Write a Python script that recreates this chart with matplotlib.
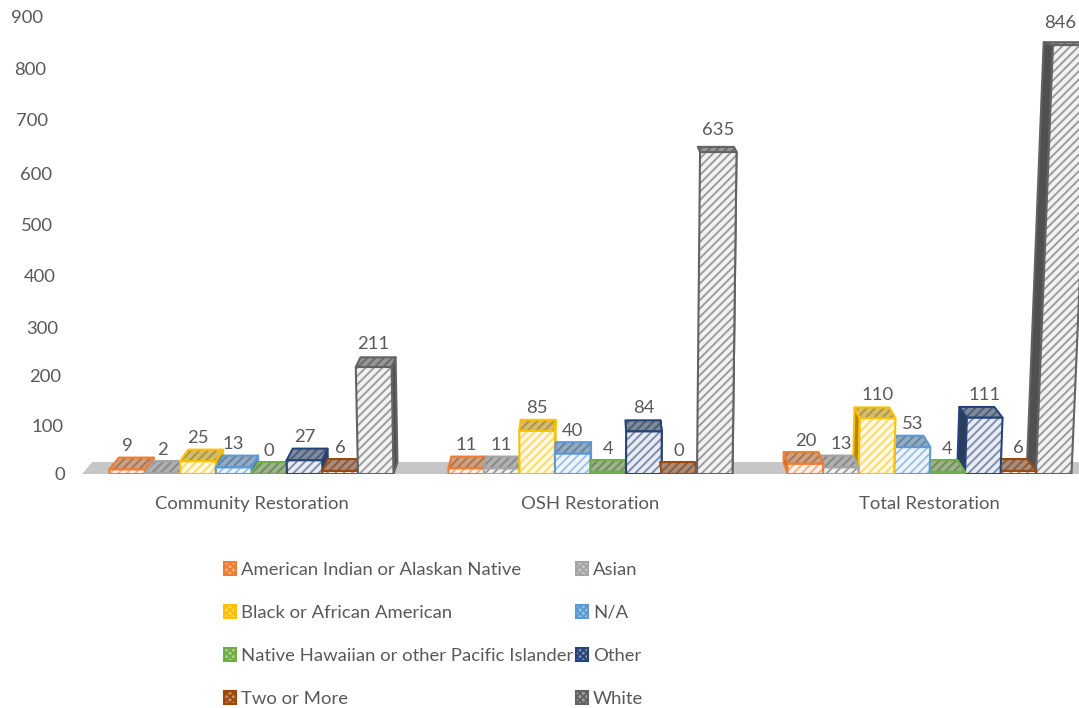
import matplotlib
matplotlib.use("Agg")
import matplotlib.pyplot as plt
import numpy as np
from matplotlib.patches import Polygon, Patch
from matplotlib.colors import to_rgb
from matplotlib.transforms import ScaledTranslation

categories = ["Community Restoration", "OSH Restoration", "Total Restoration"]
series_names = ["American Indian or Alaskan Native", "Asian", "Black or African American", "N/A",
                "Native Hawaiian or other Pacific Islander", "Other", "Two or More", "White"]
american_indian = [9, 11, 20]
asian = [2, 11, 13]
black = [25, 85, 110]
na = [13, 40, 53]
hawaiian = [0, 4, 4]
other = [27, 84, 111]
two_more = [6, 0, 6]
white = [211, 635, 846]
all_series = [american_indian, asian, black, na, hawaiian, other, two_more, white]
colors = ["#ED7D31", "#A5A5A5", "#FFC000", "#5B9BD5", "#70AD47", "#264478", "#9E480E", "#636363"]
yticks = list(range(0, 1000, 100))

W, H = 1079, 708
FONT = "Lato"
TXT = "#595959"
FS = 13.3
plt.rcParams["font.family"] = [FONT, "DejaVu Sans"]
plt.rcParams["hatch.linewidth"] = 1.4

fig = plt.figure(figsize=(W / 100, H / 100), dpi=100)
SLOPE = 0.507
ax_l, ax_r, ax_b = 68, 1079, 474
ax_t = ax_b - SLOPE * 900
ax = fig.add_axes([ax_l / W, 1 - ax_b / H, (ax_r - ax_l) / W, (ax_b - ax_t) / H])
PX = 339.0
XC = 1.0
CX = 590.5
ax.set_xlim((ax_l - CX) / PX + XC, (ax_r - CX) / PX + XC)
ax.set_ylim(0, 900)
for s in ax.spines.values():
    s.set_visible(False)
ax.patch.set_alpha(0)

LEAN = 4.5e-5
DX = 0.02
D0, D1 = 23.6, 0.0212
BW = 35.5 / PX
LABEL_XMAX = (1060 - CX) / PX + XC


def proj(x, v, d=0):
    """Oblique perspective of a point at category-axis x, value v and depth d (0 front, 1 back)."""
    return (XC + (x - XC) * (1 + LEAN * v) * (1 - DX * d), v + d * (D0 - D1 * v))


def mix(c, o, t):
    a, b = np.array(to_rgb(c)), np.array(to_rgb(o))
    return tuple(a * t + b * (1 - t))


# floor
ax.add_patch(Polygon([proj(-0.5, 0), proj(2.6, 0), proj(2.6, 0, 1), proj(-0.5, 0, 1)],
                     closed=True, fc="#C6C6C6", ec="none", zorder=1, clip_on=False))

z = 2
for g in (0, 2, 1):
    order = range(8) if g != 2 else range(7, -1, -1)
    for j in order:
        v = all_series[j][g]
        c = colors[j]
        x0 = g + (j - 4) * BW
        x1 = x0 + BW
        side_x = x0 if g == 2 else x1
        lw = 1.5
        # side face
        side = [proj(side_x, 0), proj(side_x, v), proj(side_x, v, 1), proj(side_x, 0, 1)]
        ax.add_patch(Polygon(side, closed=True, fc=mix(c, "#333333", 0.6), ec=c, lw=lw,
                             zorder=z, joinstyle="round"))
        # top face
        top = [proj(x0, v), proj(x1, v), proj(x1, v, 1), proj(x0, v, 1)]
        ax.add_patch(Polygon(top, closed=True, fc=mix(c, "#B8B8B8", 0.4),
                             ec=mix(c, "#707070", 0.45), lw=0, hatch="////", zorder=z + 0.1))
        ax.add_patch(Polygon(top, closed=True, fc="none", ec=c, lw=lw, zorder=z + 0.2, joinstyle="round"))
        # front face
        front = [proj(x0, 0), proj(x1, 0), proj(x1, v), proj(x0, v)]
        if j in (1, 7):
            face, hatch_c = "#F2F2F2", "#9C9C9C"
        else:
            face, hatch_c = mix(c, "#FFFFFF", 0.1), mix(c, "#FFFFFF", 0.6)
        ax.add_patch(Polygon(front, closed=True, fc=face, ec=hatch_c, lw=0, hatch="////", zorder=z + 0.3))
        ax.add_patch(Polygon(front, closed=True, fc="none", ec=c, lw=lw, zorder=z + 0.4, joinstyle="round"))
        z += 1
        ly = proj(x0, v, 1)[1]
        lx = min(proj((x0 + x1) / 2, v, 0)[0], LABEL_XMAX)
        off = 2.2 + 6 * v / 846
        ax.annotate(str(v), (lx, ly), xytext=(0, off), textcoords="offset points",
                    ha="center", va="bottom", fontsize=FS, color=TXT, zorder=200, clip_on=False)

# axis ticks
ax.set_yticks(yticks)
ax.set_xticks(range(3))
ax.set_xticklabels(categories)
ax.tick_params(axis="both", length=0, labelsize=FS, labelcolor=TXT)
ax.tick_params(axis="x", pad=16)
ax.tick_params(axis="y", pad=2)

# the reference's value labels drift with the 3D view
tick_right = [65, 63, 61, 58, 55, 53, 52, 48, 46, 43]
tick_y = [474, 425, 376, 327, 275, 224, 173, 120, 68, 16]
for lab, t, r, y in zip(ax.get_yticklabels(), yticks, tick_right, tick_y):
    dy = y - (ax_b - SLOPE * t)
    lab.set_transform(lab.get_transform() + ScaledTranslation((r - 65) / 100, -dy / 100, fig.dpi_scale_trans))

# legend, filled by column so it reads across in rows
handles = [Patch(fc=mix(colors[i], "#FFFFFF", 0.6), ec=colors[i], hatch="xxxxx", lw=1.5, label=series_names[i])
           for i in range(8)]
order = [0, 2, 4, 6, 1, 3, 5, 7]
leg = fig.legend([handles[i] for i in order], [series_names[i] for i in order], ncol=2,
                 loc="upper left", bbox_to_anchor=(224 / W, 1 - 562 / H), frameon=False,
                 fontsize=FS, labelcolor=TXT, handlelength=0.65, handleheight=0.65, handletextpad=0.27,
                 labelspacing=1.46, columnspacing=0.15, borderpad=0, borderaxespad=0)
fig.savefig("out.png", dpi=100)
